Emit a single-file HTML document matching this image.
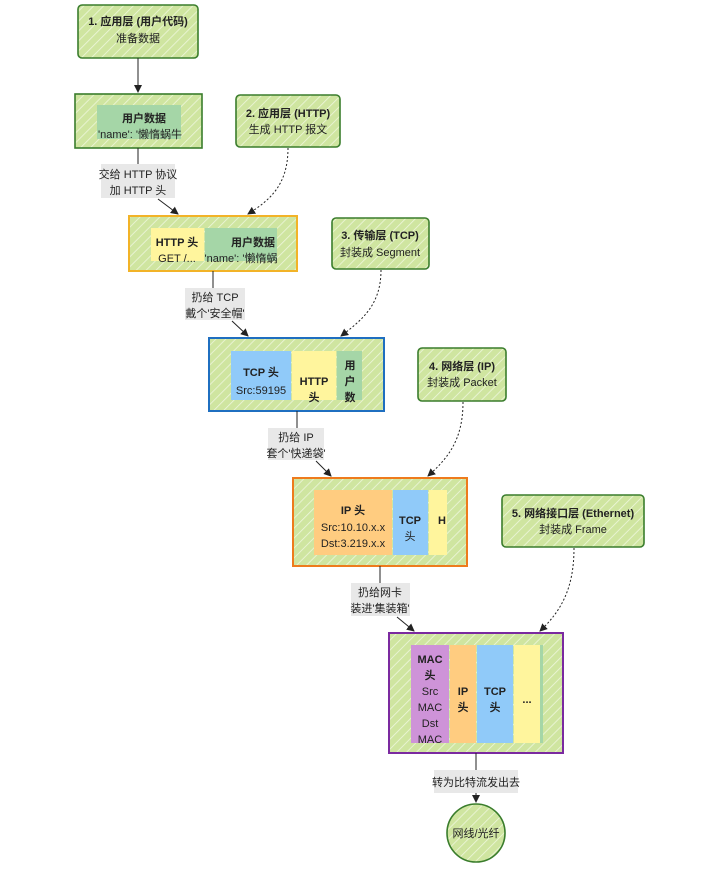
<!DOCTYPE html>
<html><head><meta charset="utf-8"><style>
body{margin:0;background:#fff;}
svg text{font-family:"Liberation Sans","Noto Sans CJK SC",sans-serif;font-size:11px;fill:#222;}
.b{font-weight:bold;}
</style></head><body>
<svg width="720" height="868" viewBox="0 0 720 868" xmlns="http://www.w3.org/2000/svg">
<defs>
<pattern id="h" width="7" height="7" patternUnits="userSpaceOnUse" patternTransform="rotate(45)">
<rect width="7" height="7" fill="#cfe5a0"/><line x1="0" y1="0" x2="0" y2="7" stroke="#eef6dd" stroke-width="1.6"/>
</pattern>
<marker id="a" markerWidth="8" markerHeight="8" refX="7" refY="4" orient="auto"><path d="M0,0 L8,4 L0,8 z" fill="#222"/></marker>
</defs>
<g stroke="#3a7d2c" stroke-width="1.6" fill="url(#h)">
<rect x="78" y="5" width="120" height="53" rx="4"/>
<rect x="75" y="94" width="127" height="54"/>
<rect x="236" y="95" width="104" height="52" rx="4"/>
<rect x="332" y="218" width="97" height="51" rx="4"/>
<rect x="418" y="348" width="88" height="53" rx="4"/>
<rect x="502" y="495" width="142" height="52" rx="4"/>
<rect x="129" y="216" width="168" height="55" stroke="#f2b328" stroke-width="2"/>
<rect x="209" y="338" width="175" height="73" stroke="#1f6fc0" stroke-width="2"/>
<rect x="293" y="478" width="174" height="88" stroke="#ee7b1c" stroke-width="2"/>
<rect x="389" y="633" width="174" height="120" stroke="#7b2aa0" stroke-width="2"/>
<circle cx="476" cy="833" r="29"/>
</g>
<!-- inner blocks -->
<rect x="97" y="105" width="84" height="34" fill="#a5d6a7"/>
<rect x="151" y="228" width="53" height="33" fill="#fff59d"/>
<rect x="205" y="228" width="72" height="33" fill="#a5d6a7"/>
<rect x="231" y="351" width="60" height="49" fill="#90caf9"/>
<rect x="292" y="351" width="44" height="49" fill="#fff59d"/>
<rect x="337" y="351" width="25" height="49" fill="#a5d6a7"/>
<rect x="314" y="490" width="78" height="65" fill="#ffcc80"/>
<rect x="393" y="490" width="35" height="65" fill="#90caf9"/>
<rect x="429" y="490" width="18" height="65" fill="#fff59d"/>
<rect x="411" y="645" width="38" height="98" fill="#ce93d8"/>
<rect x="450" y="645" width="26" height="98" fill="#ffcc80"/>
<rect x="477" y="645" width="36" height="98" fill="#90caf9"/>
<rect x="514" y="645" width="26" height="98" fill="#fff59d"/>
<rect x="540" y="645" width="3" height="98" fill="#a5d6a7"/>
<!-- labels bg -->
<g fill="#e8e8e8">
<rect x="101" y="164" width="74" height="34"/>
<rect x="185" y="288" width="60" height="32"/>
<rect x="268" y="428" width="56" height="32"/>
<rect x="351" y="583" width="59" height="33"/>
<rect x="434" y="770" width="84" height="23"/>
</g>
<!-- connectors -->
<g stroke="#222" stroke-width="1" fill="none">
<line x1="138" y1="58" x2="138" y2="92" marker-end="url(#a)"/>
<line x1="138" y1="148" x2="138" y2="164"/>
<line x1="158" y1="199" x2="178" y2="214" marker-end="url(#a)"/>
<line x1="213" y1="271" x2="213" y2="288"/>
<line x1="232" y1="321" x2="248" y2="336" marker-end="url(#a)"/>
<line x1="297" y1="411" x2="297" y2="428"/>
<line x1="316" y1="461" x2="331" y2="476" marker-end="url(#a)"/>
<line x1="380" y1="566" x2="380" y2="583"/>
<line x1="397" y1="617" x2="414" y2="631" marker-end="url(#a)"/>
<line x1="476" y1="753" x2="476" y2="770"/>
<line x1="476" y1="793" x2="476" y2="802" marker-end="url(#a)"/>
<g stroke-dasharray="2,2">
<path d="M288,148 C288,185 270,200 248,214" marker-end="url(#a)"/>
<path d="M381,270 C381,305 362,320 341,336" marker-end="url(#a)"/>
<path d="M463,402 C463,440 448,458 428,476" marker-end="url(#a)"/>
<path d="M574,548 C574,590 560,612 540,631" marker-end="url(#a)"/>
</g>
</g>
<!-- text -->
<g text-anchor="middle">
<text x="138" y="25" class="b">1. 应用层 (用户代码)</text>
<text x="138" y="42">准备数据</text>
<text x="144" y="122" class="b">用户数据</text>
<text x="140" y="138">'name': '懒惰蜗牛</text>
<text x="288" y="117" class="b">2. 应用层 (HTTP)</text>
<text x="288" y="133">生成 HTTP 报文</text>
<text x="138" y="178">交给 HTTP 协议</text>
<text x="138" y="194">加 HTTP 头</text>
<text x="177" y="246" class="b">HTTP 头</text>
<text x="177" y="262">GET /...</text>
<text x="253" y="246" class="b">用户数据</text>
<text x="241" y="262">'name': '懒惰蜗</text>
<text x="380" y="239" class="b">3. 传输层 (TCP)</text>
<text x="380" y="256">封装成 Segment</text>
<text x="215" y="301">扔给 TCP</text>
<text x="215" y="317">戴个'安全帽'</text>
<text x="261" y="376" class="b">TCP 头</text>
<text x="261" y="394">Src:59195</text>
<text x="314" y="385" class="b">HTTP</text>
<text x="314" y="401" class="b">头</text>
<text x="350" y="369" class="b">用</text>
<text x="350" y="385" class="b">户</text>
<text x="350" y="401" class="b">数</text>
<text x="462" y="370" class="b">4. 网络层 (IP)</text>
<text x="462" y="386">封装成 Packet</text>
<text x="296" y="441">扔给 IP</text>
<text x="296" y="457">套个'快递袋'</text>
<text x="353" y="514" class="b">IP 头</text>
<text x="353" y="531">Src:10.10.x.x</text>
<text x="353" y="547">Dst:3.219.x.x</text>
<text x="410" y="524" class="b">TCP</text>
<text x="410" y="540">头</text>
<text x="442" y="524" class="b">H</text>
<text x="573" y="517" class="b">5. 网络接口层 (Ethernet)</text>
<text x="573" y="533">封装成 Frame</text>
<text x="380" y="596">扔给网卡</text>
<text x="380" y="612">装进'集装箱'</text>
<text x="430" y="663" class="b">MAC</text>
<text x="430" y="679" class="b">头</text>
<text x="430" y="695">Src</text>
<text x="430" y="711">MAC</text>
<text x="430" y="727">Dst</text>
<text x="430" y="743">MAC</text>
<text x="463" y="695" class="b">IP</text>
<text x="463" y="711" class="b">头</text>
<text x="495" y="695" class="b">TCP</text>
<text x="495" y="711" class="b">头</text>
<text x="527" y="703" class="b">...</text>
<text x="476" y="786">转为比特流发出去</text>
<text x="476" y="837">网线/光纤</text>
</g>
</svg>
</body></html>
